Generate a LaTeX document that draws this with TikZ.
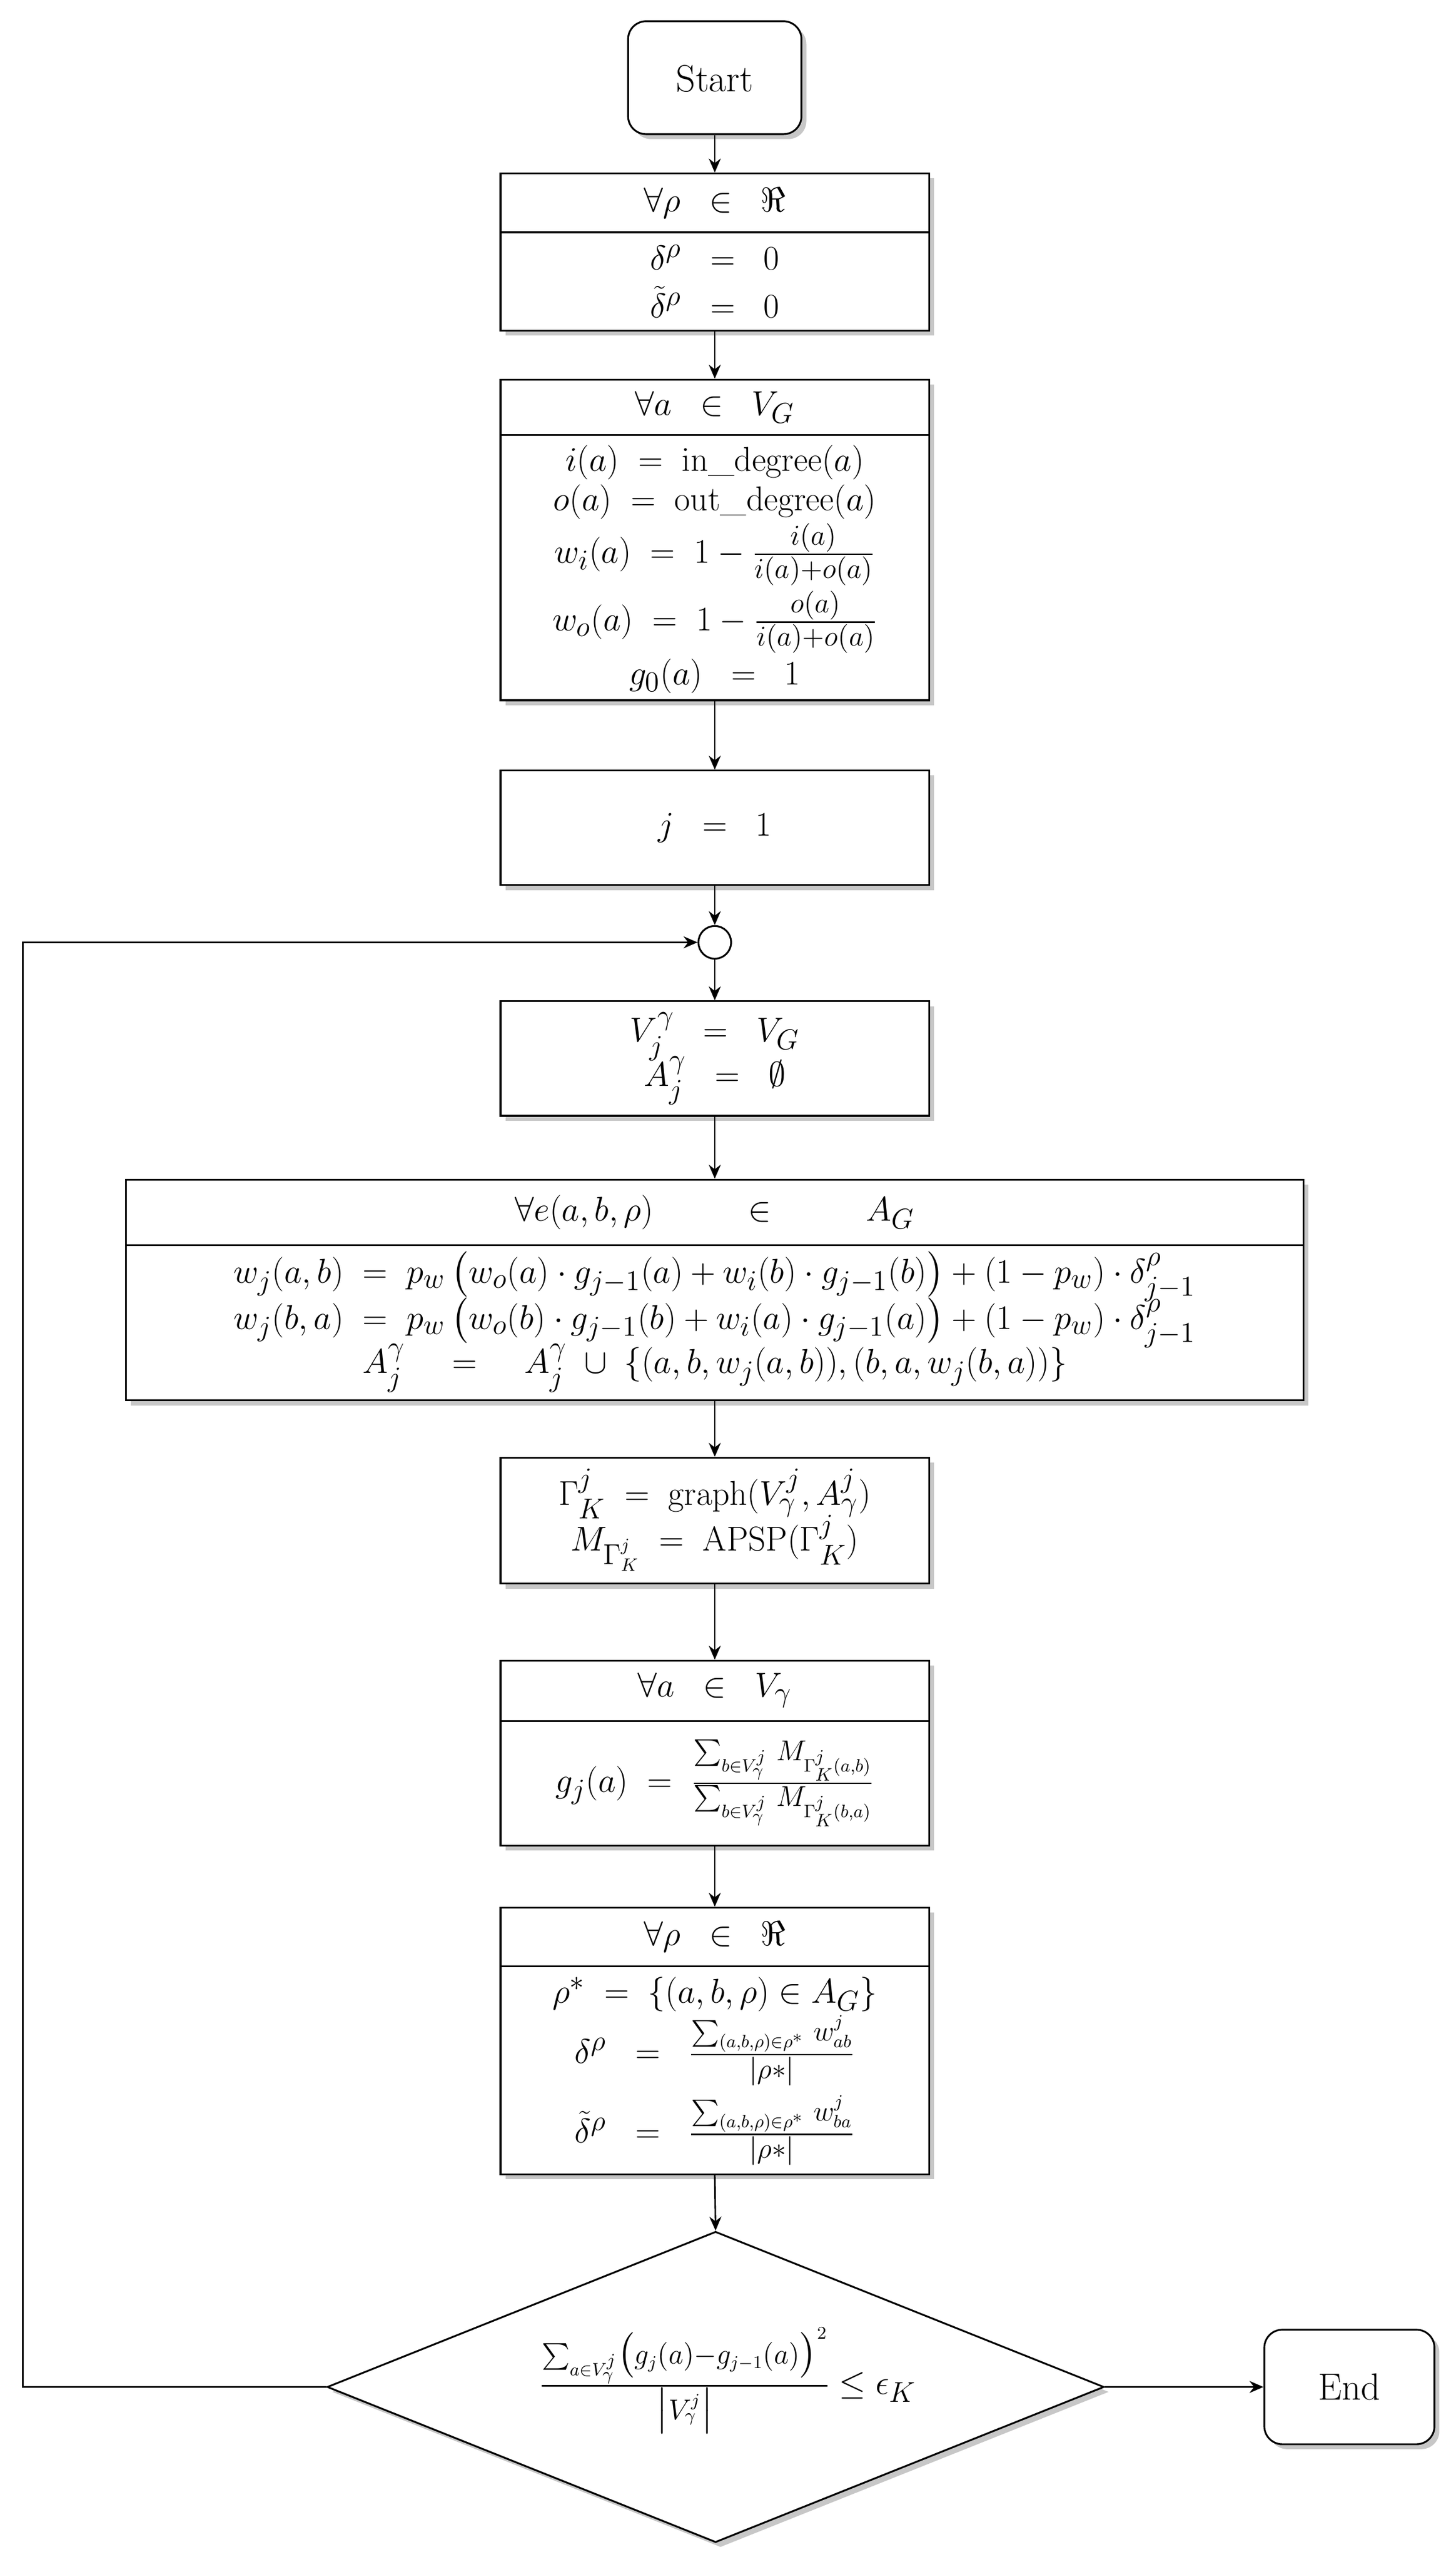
\documentclass[tikz,border=0pt]{standalone}
\usepackage{amsmath,amssymb}
\usetikzlibrary{shapes.geometric,shadows,arrows.meta}
\begin{document}
\def\u{0.8209pt}
\tikzset{
  sh/.style={drop shadow={shadow xshift=3*\u,shadow yshift=-3*\u,fill=black!22,opacity=1}},
  box/.style={draw,line width=0.9pt,fill=white,sh,rectangle,inner sep=0pt},
  txt/.style={inner sep=0pt,align=center,font=\fontsize{19}{23}\selectfont},
  arr/.style={-{Stealth[length=7pt,width=6pt]},line width=0.8pt},
}
\begin{tikzpicture}[x=0.8209pt,y=-0.8209pt]
\useasboundingbox (0,0) rectangle (890,1566);
\fontsize{19}{23}\selectfont
% start
\node[box,rounded corners=9pt,minimum width=106*\u,minimum height=69*\u] (start) at (437,47.5) {};
\node[txt] (startt) at (437,48) {Start};
% box1
\node[box,minimum width=262*\u,minimum height=96*\u] (b1) at (437,154) {};
\draw[line width=0.9pt] (306,142) coordinate (b1l) -- (568,142) coordinate (b1r);
\node[txt] (b1h) at (437,124) {$\forall\rho\;\;\in\;\;\Re$};
\node[txt] (b1b) at (437,172) {$\delta^\rho\;\;=\;\;0$\\[1pt]$\tilde\delta^\rho\;\;=\;\;0$};
% box2
\node[box,minimum width=262*\u,minimum height=196*\u] (b2) at (437,330) {};
\draw[line width=0.9pt] (306,266) coordinate (b2l) -- (568,266) coordinate (b2r);
\node[txt] (b2h) at (437,249) {$\forall a\;\;\in\;\;V_G$};
\node[txt] (b2b) at (437,348) {$i(a)\;=\;\mathrm{in\_degree}(a)$\\[-3pt]
$o(a)\;=\;\mathrm{out\_degree}(a)$\\[1pt]
$w_i(a)\;=\;1-\frac{i(a)}{i(a)+o(a)}$\\[2pt]
$w_o(a)\;=\;1-\frac{o(a)}{i(a)+o(a)}$\\[2pt]
$g_0(a)\;\;=\;\;1$};
% box3
\node[box,minimum width=262*\u,minimum height=70*\u] (b3) at (437,506) {};
\node[txt] (b3t) at (437,506) {$j\;\;=\;\;1$};
% circle
\node[draw,line width=0.9pt,circle,minimum size=20*\u,inner sep=0pt,fill=white] (c) at (437,576) {};
% box4
\node[box,minimum width=262*\u,minimum height=70*\u] (b4) at (437,647) {};
\node[txt] (b4t) at (437,647) {$V_j^\gamma\;\;=\;\;V_G$\\[-3pt]$A_j^\gamma\;\;=\;\;\emptyset$};
% box5
\node[box,minimum width=720*\u,minimum height=135*\u] (b5) at (437,788.5) {};
\draw[line width=0.9pt] (77,761) coordinate (b5l) -- (797,761) coordinate (b5r);
\node[txt] (b5h) at (437,741) {$\forall e(a,b,\rho)\qquad\;\in\qquad\; A_G$};
\node[txt] (b5b) at (437,808) {$w_j(a,b)\;=\;p_w\left(w_o(a)\cdot g_{j-1}(a)+w_i(b)\cdot g_{j-1}(b)\right)+(1-p_w)\cdot\delta^\rho_{j-1}$\\[-3pt]
$w_j(b,a)\;=\;p_w\left(w_o(b)\cdot g_{j-1}(b)+w_i(a)\cdot g_{j-1}(a)\right)+(1-p_w)\cdot\delta^\rho_{j-1}$\\[-3pt]
$A_j^\gamma\quad=\quad A_j^\gamma\;\cup\;\{(a,b,w_j(a,b)),(b,a,w_j(b,a))\}$};
% box6
\node[box,minimum width=262*\u,minimum height=77*\u] (b6) at (437,929.5) {};
\node[txt] (b6t) at (437,929) {$\Gamma_K^j\;=\;\mathrm{graph}(V_\gamma^j,A_\gamma^j)$\\[-3pt]$M_{\Gamma_K^j}\;=\;\mathrm{APSP}(\Gamma_K^j)$};
% box7
\node[box,minimum width=262*\u,minimum height=113*\u] (b7) at (437,1071.5) {};
\draw[line width=0.9pt] (306,1052) coordinate (b7l) -- (568,1052) coordinate (b7r);
\node[txt] (b7h) at (437,1033) {$\forall a\;\;\in\;\;V_\gamma$};
\node[txt] (b7b) at (437,1090) {$g_j(a)\;=\;\frac{\sum_{b\in V_\gamma^j}\,M_{\Gamma_K^j(a,b)}}{\sum_{b\in V_\gamma^j}\,M_{\Gamma_K^j(b,a)}}$};
% box8
\node[box,minimum width=262*\u,minimum height=163*\u] (b8) at (437,1247.5) {};
\draw[line width=0.9pt] (306,1202) coordinate (b8l) -- (568,1202) coordinate (b8r);
\node[txt] (b8h) at (437,1184) {$\forall\rho\;\;\in\;\;\Re$};
\node[txt] (b8b) at (437,1266) {$\rho^*\;=\;\{(a,b,\rho)\in A_G\}$\\[1pt]
$\delta^\rho\;\;=\;\;\frac{\sum_{(a,b,\rho)\in\rho^*}\,w^j_{ab}}{|\rho*|}$\\[4pt]
$\tilde\delta^\rho\;\;=\;\;\frac{\sum_{(a,b,\rho)\in\rho^*}\,w^j_{ba}}{|\rho*|}$};
% diamond
\node[draw,line width=0.9pt,fill=white,sh,diamond,aspect=2.5,inner sep=0pt,minimum width=475*\u,minimum height=190*\u] (d) at (437.5,1459) {};
\node[txt] (dt) at (445,1455) {$\frac{\sum_{a\in V_\gamma^j}\bigl(g_j(a)-g_{j-1}(a)\bigr)^2}{\bigl|V_\gamma^j\bigr|}\le\epsilon_K$};
% end
\node[box,rounded corners=9pt,minimum width=104*\u,minimum height=70*\u] (end) at (825,1459) {};
\node[txt] (endt) at (825,1459) {End};
% arrows
\draw[arr] (start.south) -- (b1.north);
\draw[arr] (b1.south) -- (b2.north);
\draw[arr] (b2.south) -- (b3.north);
\draw[arr] (b3.south) -- (c.north);
\draw[arr] (c.south) -- (b4.north);
\draw[arr] (b4.south) -- (b5.north);
\draw[arr] (b5.south) -- (b6.north);
\draw[arr] (b6.south) -- (b7.north);
\draw[arr] (b7.south) -- (b8.north);
\draw[arr] (b8.south) -- (d.north);
\draw[arr] (d.east) -- (end.west);
\coordinate (lb) at (14,1459);
\coordinate (lt) at (14,576);
\draw[arr] (d.west) -- (lb) -- (lt) -- (c.west);
\end{tikzpicture}
\end{document}
